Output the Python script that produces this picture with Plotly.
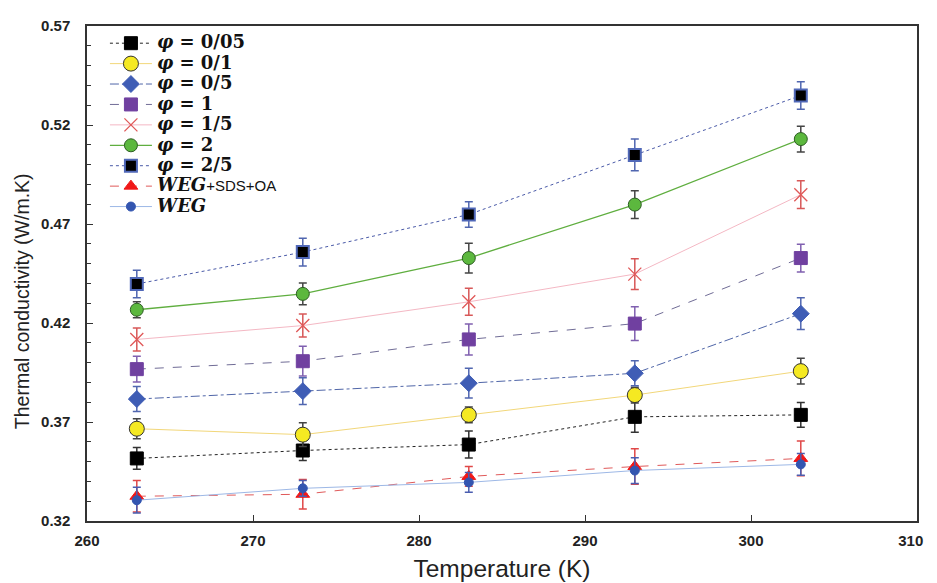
import plotly.graph_objects as go

temperature = [263, 273, 283, 293, 303]
x_tick_values = [260, 270, 280, 290, 300, 310]
x_tick_labels = ["260", "270", "280", "290", "300", "310&nbsp;&nbsp;&nbsp;"]

names = [
    "<b><i>φ</i> = 0/05</b>",
    "<b><i>φ</i> = 0/1</b>",
    "<b><i>φ</i> = 0/5</b>",
    "<b><i>φ</i> = 1</b>",
    "<b><i>φ</i> = 1/5</b>",
    "<b><i>φ</i> = 2</b>",
    "<b><i>φ</i> = 2/5</b>",
    "<b><i>WEG</i></b><span style=\"font-family:'Liberation Sans'; font-size:15px; font-weight:normal\">+SDS+OA</span>",
    "<b><i>WEG</i></b>",
]

k_0_05 = [0.3516, 0.3556, 0.3586, 0.3726, 0.3736]
k_0_1 = [0.3666, 0.3636, 0.3736, 0.3836, 0.3957]
k_0_5 = [0.3816, 0.3856, 0.3896, 0.3946, 0.4247]
k_1 = [0.3967, 0.4007, 0.4117, 0.4197, 0.4528]
k_1_5 = [0.4117, 0.4187, 0.4307, 0.4447, 0.4848]
k_2 = [0.4267, 0.4347, 0.4528, 0.4798, 0.5129]
k_2_5 = [0.4397, 0.4558, 0.4748, 0.5049, 0.5349]
k_weg_sds_oa = [0.3325, 0.3335, 0.3425, 0.3475, 0.3516]
k_weg = [0.3305, 0.3365, 0.3395, 0.3455, 0.3486]

err_0_05 = [0.0055, 0.005, 0.0068, 0.0078, 0.0063]
err_0_1 = [0.005, 0.006, 0.004, 0.004, 0.0065]
err_0_5 = [0.0063, 0.0068, 0.0075, 0.0063, 0.008]
err_1 = [0.0065, 0.0075, 0.0078, 0.0085, 0.007]
err_1_5 = [0.0058, 0.0058, 0.0068, 0.0078, 0.007]
err_2 = [0.004, 0.0055, 0.0075, 0.007, 0.0065]
err_2_5 = [0.007, 0.007, 0.0065, 0.008, 0.007]
err_weg_sds_oa = [0.008, 0.0075, 0.005, 0.009, 0.0088]
err_weg = [0.0065, 0.004, 0.005, 0.0065, 0.0055]

values = [k_0_05, k_0_1, k_0_5, k_1, k_1_5, k_2, k_2_5, k_weg_sds_oa, k_weg]
errors = [err_0_05, err_0_1, err_0_5, err_1, err_1_5, err_2, err_2_5, err_weg_sds_oa, err_weg]

styles = [
    dict(line=dict(color="#222222", width=1, dash="dot"),
         marker=dict(symbol="square", size=13, color="#000000", line=dict(color="#000000", width=1)),
         ecolor="#333333"),
    dict(line=dict(color="#F2D77A", width=1, dash="solid"),
         marker=dict(symbol="circle", size=15, color="#F5E922", line=dict(color="#333333", width=1)),
         ecolor="#444444"),
    dict(line=dict(color="#5066A8", width=1, dash="dashdot"),
         marker=dict(symbol="diamond", size=13, color="#3F5DB5", line=dict(color="#3F5DB5", width=1)),
         ecolor="#5066B0"),
    dict(line=dict(color="#706C96", width=1, dash="dash"),
         marker=dict(symbol="square", size=13, color="#7040A0", line=dict(color="#7040A0", width=1)),
         ecolor="#8060B0"),
    dict(line=dict(color="#F4B8C4", width=1, dash="solid"),
         marker=dict(symbol="x-thin", size=13, color="#E05858", line=dict(color="#E05858", width=1.3)),
         ecolor="#D85858"),
    dict(line=dict(color="#5FAE3F", width=1.3, dash="solid"),
         marker=dict(symbol="circle", size=13, color="#5CB83E", line=dict(color="#2E5E24", width=1)),
         ecolor="#444444"),
    dict(line=dict(color="#4A5AA8", width=1, dash="dot"),
         marker=dict(symbol="square", size=12, color="#000000", line=dict(color="#5068B8", width=2)),
         ecolor="#5066B0"),
    dict(line=dict(color="#E05A5A", width=1, dash="dash"),
         marker=dict(symbol="triangle-up", size=12, color="#F01818", line=dict(color="#F01818", width=1)),
         ecolor="#E04848"),
    dict(line=dict(color="#9DB8E6", width=1, dash="solid"),
         marker=dict(symbol="circle", size=9, color="#3355B0", line=dict(color="#3355B0", width=1)),
         ecolor="#4A5DB0"),
]

fig = go.Figure()
for name, vals, errs, st in zip(names, values, errors, styles):
    fig.add_trace(go.Scatter(
        x=temperature, y=vals,
        name="<span style=\"font-size:18px\">" + name + "</span>",
        mode="lines+markers",
        line=st["line"], marker=st["marker"],
        error_y=dict(type="data", array=errs, visible=True,
                     color=st["ecolor"], thickness=1.5, width=4),
    ))

tfont = dict(family="Liberation Sans, Arial", size=15, color="#222222", weight="bold")

fig.update_layout(
    width=937, height=583,
    margin=dict(l=79, r=23, t=9, b=70),
    paper_bgcolor="white", plot_bgcolor="white",
    showlegend=True,
    legend=dict(x=0.0216, y=0.996, xanchor="left", yanchor="top",
                bgcolor="rgba(255,255,255,0)", borderwidth=0,
                font=dict(family="DejaVu Serif", size=13.4, color="#111111"),
                tracegroupgap=0, itemwidth=42),
    xaxis=dict(
        range=[260, 310], tickvals=x_tick_values, ticktext=x_tick_labels,
        ticks="inside", ticklen=6, tickcolor="#333333",
        showline=True, mirror=True, linecolor="#333333", linewidth=1.5,
        showgrid=False, zeroline=False,
        tickfont=tfont, ticklabelstandoff=5,
        title=dict(text="Temperature (K)", standoff=12,
                   font=dict(family="Liberation Sans", size=24.5, color="#222222")),
    ),
    yaxis=dict(
        range=[0.32, 0.57], tickvals=[0.32, 0.37, 0.42, 0.47, 0.52, 0.57],
        tickformat=".2f",
        ticks="inside", ticklen=6, tickcolor="#333333",
        minor=dict(dtick=0.01, tick0=0.32, ticks="inside", ticklen=4, tickcolor="#333333"),
        showline=True, mirror=True, linecolor="#333333", linewidth=1.5,
        showgrid=False, zeroline=False,
        tickfont=tfont, ticklabelstandoff=12,
    ),
    annotations=[dict(
        text="Thermal conductivity (W/m.K)", textangle=-90,
        xref="paper", yref="paper", x=-0.079, y=0.445,
        xanchor="center", yanchor="middle", showarrow=False,
        font=dict(family="Liberation Sans", size=19.5, color="#222222"),
    )],
)

fig.write_html("out.html")
